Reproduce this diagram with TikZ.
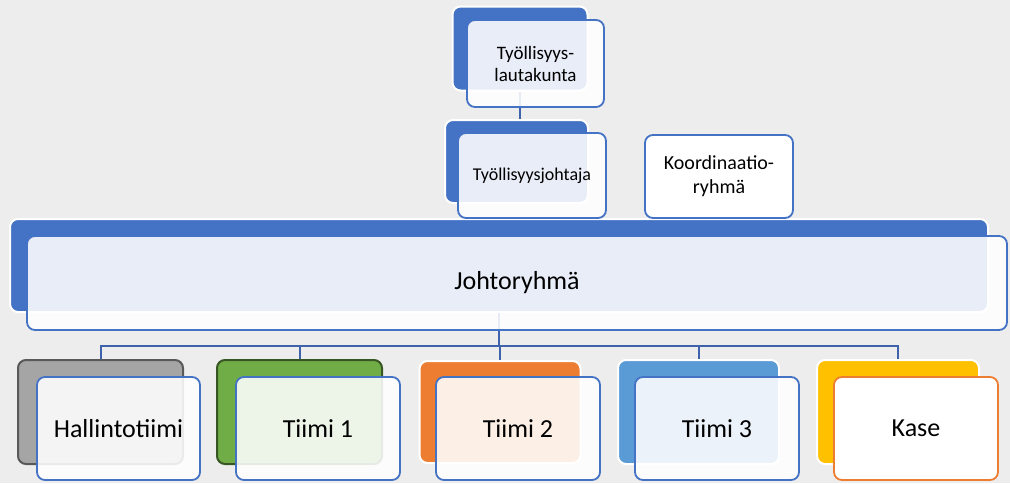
\documentclass[tikz,border=0pt]{standalone}
\usepackage{fontspec}
\setmainfont{Carlito}
\definecolor{bgc}{HTML}{EDEDED}
\definecolor{accblue}{HTML}{4472C4}
\definecolor{linec}{HTML}{3F62AD}
\definecolor{grayc}{HTML}{A5A5A5}
\definecolor{grayb}{HTML}{595959}
\definecolor{greenc}{HTML}{70AD47}
\definecolor{greenb}{HTML}{375623}
\definecolor{orangec}{HTML}{ED7D31}
\definecolor{lblue}{HTML}{5B9BD5}
\definecolor{yellowc}{HTML}{FFC000}
\tikzset{
  backbox/.style={rectangle, rounded corners=8pt, draw=white, line width=2pt, inner sep=0pt},
  frontbox/.style={rectangle, rounded corners=8pt, draw=accblue, line width=1.8pt, fill=white, fill opacity=0.88, draw opacity=1, text opacity=1, inner sep=0pt, align=center, text=black},
  conn/.style={draw=linec, line width=2pt},
}
\begin{document}
\begin{tikzpicture}[x=1pt,y=-1pt]
\fill[bgc] (0,0) rectangle (1010,483);
\useasboundingbox (0,0) rectangle (1010,483);
% back boxes
\node[backbox, fill=accblue, minimum width=135pt, minimum height=84pt] (tb) at (520,48.5) {};
\node[backbox, fill=accblue, minimum width=143pt, minimum height=83pt] (sb) at (516.5,161.5) {};
\node[backbox, fill=accblue, minimum width=978pt, minimum height=93pt] (jb) at (499,265.5) {};
\node[backbox, fill=grayc, draw=grayb, minimum width=165pt, minimum height=104pt] (hb) at (100.5,412) {};
\node[backbox, fill=greenc, draw=greenb, minimum width=165pt, minimum height=104pt] (t1b) at (299.5,412) {};
\node[backbox, fill=orangec, minimum width=161pt, minimum height=102pt] (t2b) at (500,412) {};
\node[backbox, fill=lblue, minimum width=161pt, minimum height=104pt] (t3b) at (698.5,412) {};
\node[backbox, fill=yellowc, minimum width=162pt, minimum height=104pt] (kb) at (898,412) {};
% connectors
\draw[conn] (tb.south) -- (tb.south |- sb.north);
\draw[conn] (jb.south) -- ++(0,33) -| (hb.north);
\draw[conn] (jb.south) -- ++(0,33) -| (t1b.north);
\draw[conn] (jb.south) -- ++(0,33) -| (t2b.north);
\draw[conn] (jb.south) -- ++(0,33) -| (t3b.north);
\draw[conn] (jb.south) -- ++(0,33) -| (kb.north);
% front boxes
\node[frontbox, minimum width=137pt, minimum height=87pt, font=\fontsize{19}{22}\selectfont] (tf) at (535.5,63.5) {Työllisyys-\\lautakunta};
\node[frontbox, minimum width=148pt, minimum height=85pt, font=\fontsize{18}{21}\selectfont] (sf) at (532,175.5) {Työllisyysjohtaja};
\node[frontbox, fill opacity=1, minimum width=148pt, minimum height=83pt, font=\fontsize{20}{24}\selectfont] (ko) at (719,176.5) {Koordinaatio-\\ryhmä};
\node[frontbox, minimum width=980pt, minimum height=94pt, font=\fontsize{26}{30}\selectfont] (jf) at (517,283) {Johtoryhmä};
\node[frontbox, minimum width=163pt, minimum height=103pt, font=\fontsize{26}{30}\selectfont] (hf) at (118.5,428.5) {Hallintotiimi};
\node[frontbox, minimum width=164pt, minimum height=103pt, font=\fontsize{26}{30}\selectfont] (t1f) at (318,428.5) {Tiimi 1};
\node[frontbox, minimum width=164pt, minimum height=103pt, font=\fontsize{26}{30}\selectfont] (t2f) at (518,428.5) {Tiimi 2};
\node[frontbox, minimum width=164pt, minimum height=103pt, font=\fontsize{26}{30}\selectfont] (t3f) at (717,428.5) {Tiimi 3};
\node[frontbox, draw=orangec, fill opacity=1, minimum width=164pt, minimum height=103pt, font=\fontsize{26}{30}\selectfont] (kf) at (916,428.5) {Kase};
\end{tikzpicture}
\end{document}
